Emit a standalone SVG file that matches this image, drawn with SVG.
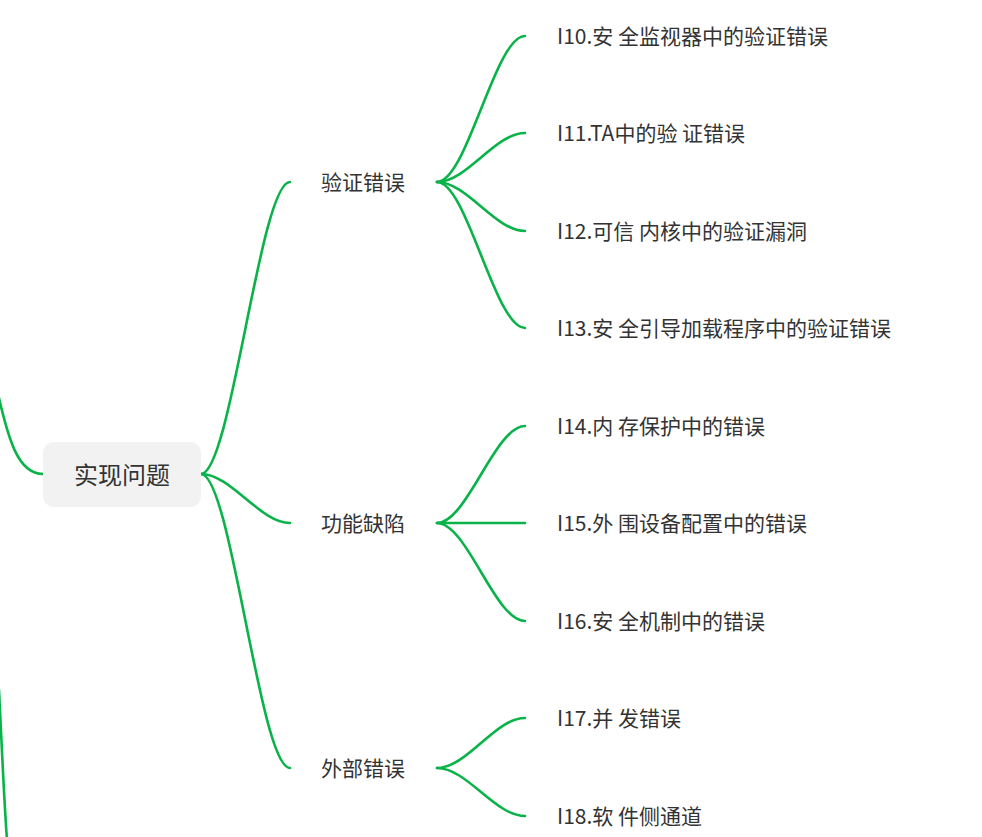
<svg xmlns="http://www.w3.org/2000/svg" width="982" height="837" viewBox="0 0 982 837">
<style>
.c{fill:none;stroke:#0ab34a;stroke-width:2.6;stroke-linecap:round}
.t{font-family:"Noto Sans CJK SC","Microsoft YaHei",sans-serif;fill:#333;dominant-baseline:central}
.b{font-size:21px;text-anchor:middle}
.l{font-size:21px}
</style>
<rect width="982" height="837" fill="#fff"/>
<g id="connectors">
<path class="c" d="M -4 385 C 8 440, 18 474, 43 474"/>
<path class="c" d="M -1 690 C 2 750, 4 800, 7 840"/>
<path class="c" d="M 201 474 C 231 474, 260 182, 290 182"/>
<path class="c" d="M 201 474 C 231 474, 260 523, 290 523"/>
<path class="c" d="M 201 474 C 231 474, 260 768, 290 768"/>
<path class="c" d="M 437 182 C 467 182, 495 36, 525 36"/>
<path class="c" d="M 437 182 C 467 182, 495 133, 525 133"/>
<path class="c" d="M 437 182 C 467 182, 495 231, 525 231"/>
<path class="c" d="M 437 182 C 467 182, 495 328, 525 328"/>
<path class="c" d="M 437 523 C 467 523, 495 426, 525 426"/>
<path class="c" d="M 437 523 L 525 523"/>
<path class="c" d="M 437 523 C 467 523, 495 621, 525 621"/>
<path class="c" d="M 437 768 C 467 768, 495 718, 525 718"/>
<path class="c" d="M 437 768 C 467 768, 495 816, 525 816"/>
</g>
<g id="n-root">
<rect x="43" y="442" width="158" height="65" rx="11" fill="#f2f2f2"/>
<text class="t" x="122" y="473" font-size="24" text-anchor="middle">实现问题</text>
</g>
<g id="n-verify"><text class="t b" x="363" y="181">验证错误</text></g>
<g id="n-func"><text class="t b" x="363" y="522">功能缺陷</text></g>
<g id="n-ext"><text class="t b" x="363" y="767">外部错误</text></g>
<g id="n-i10"><text class="t l" x="557" y="35">I10.安 全监视器中的验证错误</text></g>
<g id="n-i11"><text class="t l" x="557" y="132">I11.TA中的验 证错误</text></g>
<g id="n-i12"><text class="t l" x="557" y="230">I12.可信 内核中的验证漏洞</text></g>
<g id="n-i13"><text class="t l" x="557" y="327">I13.安 全引导加载程序中的验证错误</text></g>
<g id="n-i14"><text class="t l" x="557" y="425">I14.内 存保护中的错误</text></g>
<g id="n-i15"><text class="t l" x="557" y="522">I15.外 围设备配置中的错误</text></g>
<g id="n-i16"><text class="t l" x="557" y="620">I16.安 全机制中的错误</text></g>
<g id="n-i17"><text class="t l" x="557" y="717">I17.并 发错误</text></g>
<g id="n-i18"><text class="t l" x="557" y="815">I18.软 件侧通道</text></g>
</svg>
